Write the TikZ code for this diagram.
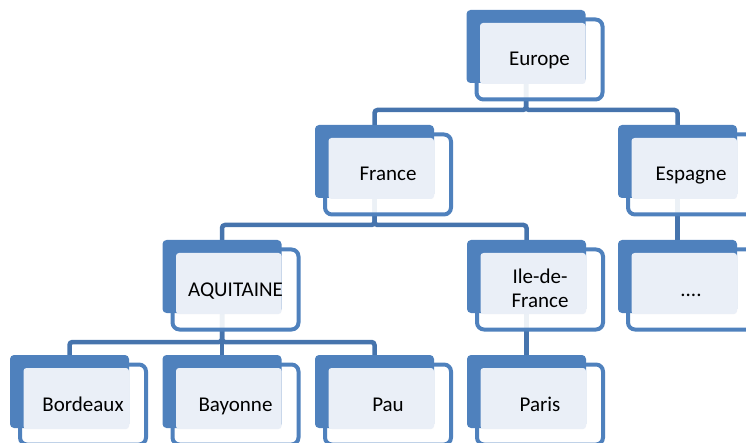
\documentclass[tikz,border=0pt]{standalone}
\usepackage{fontspec}
\setmainfont{Carlito}
\usetikzlibrary{backgrounds}
\definecolor{boxblue}{HTML}{4F81BD}
\definecolor{lineblue}{HTML}{4674AD}
\definecolor{lightfill}{HTML}{EAEFF7}
\tikzset{
  backbox/.style={rectangle, rounded corners=4pt, fill=boxblue, draw=none,
    minimum width=119pt, minimum height=73pt, inner sep=0pt, outer sep=0pt, anchor=north west},
  framebox/.style={rectangle, rounded corners=7pt, fill=white, fill opacity=0.9,
    draw=boxblue, draw opacity=1, line width=4pt,
    minimum width=126pt, minimum height=80pt, inner sep=0pt, outer sep=0pt, anchor=north west},
  textbox/.style={rectangle, rounded corners=3pt, fill=lightfill, draw=none,
    minimum width=105.5pt, minimum height=61pt, inner sep=0pt, outer sep=0pt, anchor=north west},
  boxtext/.style={font=\fontsize{21pt}{24pt}\selectfont, align=center, inner sep=0pt, text=black, anchor=base},
  connector/.style={draw=lineblue, line width=4.5pt, rounded corners=3pt}
}
\newcommand\orgbox[5][56]{%
  \node[framebox] (#2-w) at (#3+10,#4+9.5) {};
  \node[backbox] (#2) at (#3,#4) {};
  \node[textbox] (#2-l) at (#3+13.5,#4+13) {};
  \node[boxtext] (#2-t) at (#3+73,#4+#1) {#5};
}
\begin{document}
\begin{tikzpicture}[x=1pt,y=-1pt]
  \useasboundingbox (0,0) rectangle (746,443);
  \clip (0,0) rectangle (746,443);
  \orgbox{europe}{466.5}{10}{Europe}
  \orgbox{france}{315}{125}{France}
  \orgbox{espagne}{618}{125}{Espagne}
  \orgbox{aquitaine}{162.5}{240}{AQUITAINE}
  \orgbox[67]{ile}{467}{240}{Ile-de-\\France}
  \orgbox{dots}{618}{240}{....}
  \orgbox{bordeaux}{10}{355}{Bordeaux}
  \orgbox{bayonne}{162.5}{355}{Bayonne}
  \orgbox{pau}{315}{355}{Pau}
  \orgbox{paris}{467}{355}{Paris}
  \begin{scope}[on background layer]
    \draw[connector] (europe.south) -- ++(0,27) -| (france.north);
    \draw[connector] (europe.south) -- ++(0,27) -| (espagne.north);
    \draw[connector] (france.south) -- ++(0,27) -| (aquitaine.north);
    \draw[connector] (france.south) -- ++(0,27) -| (ile.north);
    \draw[connector] (espagne.south) -- (dots.north);
    \draw[connector] (aquitaine.south) -- ++(0,29) -| (bordeaux.north);
    \draw[connector] (aquitaine.south) -- ++(0,29) -| (bayonne.north);
    \draw[connector] (aquitaine.south) -- ++(0,29) -| (pau.north);
    \draw[connector] (ile.south) -- (paris.north);
  \end{scope}
\end{tikzpicture}
\end{document}
